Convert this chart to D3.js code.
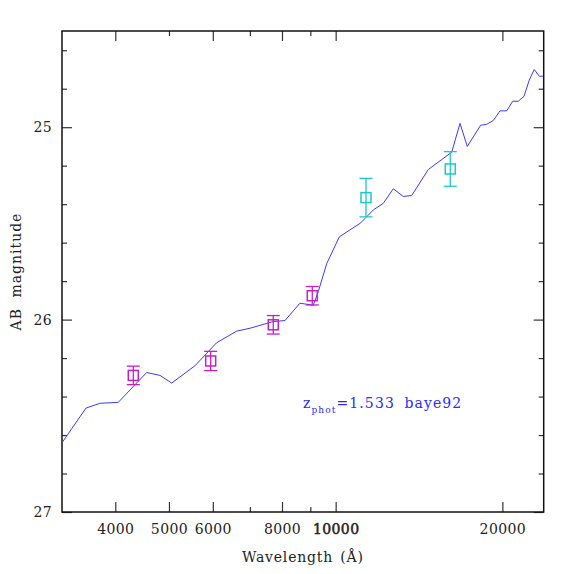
<!DOCTYPE html>
<html>
<head>
<meta charset="utf-8">
<script src="https://cdn.jsdelivr.net/npm/d3@7"></script>
<style>
  body { margin: 0; background: #fff; }
  text { font-family: "DejaVu Serif", serif; }
</style>
</head>
<body>
<svg id="chart" width="574" height="574"></svg>
<script>
// model SED (wavelength in Angstrom, AB mag)
var modelWave = [3205, 3541, 3753, 4050, 4557, 4817, 5057, 5570, 6097, 6625, 7002, 7715, 8100, 8619, 9111, 9302, 9632,
                 10151, 11063, 11295, 11695, 12188, 12706, 13248, 13719, 14696, 16201, 16770, 17286, 18270, 18735,
                 19260, 19804, 20362, 20874, 21367, 21878, 22367, 22836, 23315, 23750];
var modelMag = [26.64, 26.46, 26.435, 26.43, 26.275, 26.29, 26.33, 26.24, 26.12, 26.06, 26.045, 26.01, 26.005, 25.915, 25.925, 25.855, 25.71,
                25.57, 25.50, 25.475, 25.43, 25.396, 25.32, 25.36, 25.355, 25.22, 25.13, 24.98, 25.10, 24.99, 24.985,
                24.965, 24.915, 24.915, 24.865, 24.865, 24.84, 24.755, 24.70, 24.735, 24.735];

// photometry
var obsWave = [4311, 5947, 7715, 9073, 11344, 16105];
var obsMag  = [26.29, 26.215, 26.027, 25.876, 25.366, 25.217];
var obsErr  = [0.048, 0.05, 0.048, 0.048, 0.10, 0.09];
var obsColor = ["#c81ec8", "#c81ec8", "#c81ec8", "#c81ec8", "#1ec8c8", "#1ec8c8"];

var xMajor = [4000, 5000, 6000, 8000, 10000, 20000];
var xMinor = [7000, 9000];
var xMajorTop = [4000, 6000, 8000, 10000, 20000];
var xMinorTop = [5000, 7000, 9000];
var yMajor = [25, 26, 27];
var yMinor = [24.6, 24.8, 25.2, 25.4, 25.6, 25.8, 26.2, 26.4, 26.6, 26.8];

var pLeft = 62, pRight = 543.7, pTop = 31, pBottom = 512;

var svg = d3.select("#chart");

var x = d3.scaleLog().domain([3205, 23750]).range([pLeft, pRight]);
var y = d3.scaleLinear().domain([24.5, 27]).range([pTop, pBottom]);

svg.append("defs").append("clipPath").attr("id", "clip")
  .append("rect").attr("x", pLeft).attr("y", pTop)
  .attr("width", pRight - pLeft).attr("height", pBottom - pTop);

function styleAxis(g) {
  g.select(".domain").remove();
  g.selectAll(".tick line").attr("stroke", "#333").attr("stroke-width", 1.2);
  g.selectAll(".tick text").attr("fill", "#222").style("font-size", "14px")
    .style("font-family", "DejaVu Serif, serif").attr("letter-spacing", "0.4px");
}

// bottom axis
svg.append("g").attr("transform", "translate(0," + pBottom + ")")
  .call(d3.axisBottom(x).tickValues(xMajor).tickSize(-10).tickSizeOuter(0).tickPadding(12)
    .tickFormat(d3.format("d")))
  .call(styleAxis)
  .call(function (g) {
    g.selectAll(".tick text").filter(function (d) { return d === 10000; })
      .attr("stroke", "#222").attr("stroke-width", 0.5);
  });
svg.append("g").attr("transform", "translate(0," + pBottom + ")")
  .call(d3.axisBottom(x).tickValues(xMinor).tickSize(-5).tickSizeOuter(0).tickFormat(""))
  .call(styleAxis);

// top axis
svg.append("g").attr("transform", "translate(0," + pTop + ")")
  .call(d3.axisTop(x).tickValues(xMajorTop).tickSize(-10).tickSizeOuter(0).tickFormat(""))
  .call(styleAxis);
svg.append("g").attr("transform", "translate(0," + pTop + ")")
  .call(d3.axisTop(x).tickValues(xMinorTop).tickSize(-5).tickSizeOuter(0).tickFormat(""))
  .call(styleAxis);

// left axis
svg.append("g").attr("transform", "translate(" + pLeft + ",0)")
  .call(d3.axisLeft(y).tickValues(yMajor).tickSize(-10).tickSizeOuter(0).tickPadding(10)
    .tickFormat(d3.format("d")))
  .call(styleAxis);
svg.append("g").attr("transform", "translate(" + pLeft + ",0)")
  .call(d3.axisLeft(y).tickValues(yMinor).tickSize(-5).tickSizeOuter(0).tickFormat(""))
  .call(styleAxis);

// right axis
svg.append("g").attr("transform", "translate(" + pRight + ",0)")
  .call(d3.axisRight(y).tickValues(yMajor).tickSize(-10).tickSizeOuter(0).tickFormat(""))
  .call(styleAxis);
svg.append("g").attr("transform", "translate(" + pRight + ",0)")
  .call(d3.axisRight(y).tickValues(yMinor).tickSize(-5).tickSizeOuter(0).tickFormat(""))
  .call(styleAxis);

// frame
svg.append("rect").attr("x", pLeft).attr("y", pTop)
  .attr("width", pRight - pLeft).attr("height", pBottom - pTop)
  .attr("fill", "none").attr("stroke", "#111").attr("stroke-width", 1.5);

// model line
var line = d3.line()
  .x(function (d, i) { return x(modelWave[i]); })
  .y(function (d, i) { return y(modelMag[i]); });
svg.append("path").datum(modelWave)
  .attr("clip-path", "url(#clip)")
  .attr("d", line)
  .attr("fill", "none").attr("stroke", "#3a3aff").attr("stroke-width", 1);

// photometric points
var pts = svg.append("g").selectAll("g").data(obsWave).enter().append("g");
pts.append("line")
  .attr("x1", function (d) { return x(d); }).attr("x2", function (d) { return x(d); })
  .attr("y1", function (d, i) { return y(obsMag[i] - obsErr[i]); })
  .attr("y2", function (d, i) { return y(obsMag[i] + obsErr[i]); })
  .attr("stroke", function (d, i) { return obsColor[i]; }).attr("stroke-width", 1.3);
[-1, 1].forEach(function (s) {
  pts.append("line")
    .attr("x1", function (d) { return x(d) - 6.5; }).attr("x2", function (d) { return x(d) + 6.5; })
    .attr("y1", function (d, i) { return y(obsMag[i] + s * obsErr[i]); })
    .attr("y2", function (d, i) { return y(obsMag[i] + s * obsErr[i]); })
    .attr("stroke", function (d, i) { return obsColor[i]; }).attr("stroke-width", 1.3);
});
pts.append("rect")
  .attr("x", function (d) { return x(d) - 5; })
  .attr("y", function (d, i) { return y(obsMag[i]) - 5; })
  .attr("width", 10).attr("height", 10)
  .attr("fill", "none")
  .attr("stroke", function (d, i) { return obsColor[i]; }).attr("stroke-width", 1.5);

// axis titles
svg.append("text").attr("x", (pLeft + pRight) / 2).attr("y", 562)
  .attr("text-anchor", "middle").attr("fill", "#222").style("font-size", "14px")
  .attr("letter-spacing", "0.8px").attr("word-spacing", "2px")
  .text("Wavelength (Å)");
svg.append("text").attr("transform", "translate(21," + (pTop + pBottom) / 2 + ") rotate(-90)")
  .attr("text-anchor", "middle").attr("fill", "#222").style("font-size", "14px")
  .attr("letter-spacing", "1px").attr("word-spacing", "5px")
  .text("AB magnitude");

// photo-z annotation
var ann = svg.append("text").attr("x", 303).attr("y", 408)
  .attr("fill", "#2a2aff").style("font-size", "14px").attr("letter-spacing", "1.1px");
ann.append("tspan").text("z");
ann.append("tspan").attr("dy", 5).style("font-size", "9px").text("phot");
ann.append("tspan").attr("dy", -5).attr("word-spacing", "4px").text("=1.533 baye92");
</script>
</body>
</html>
